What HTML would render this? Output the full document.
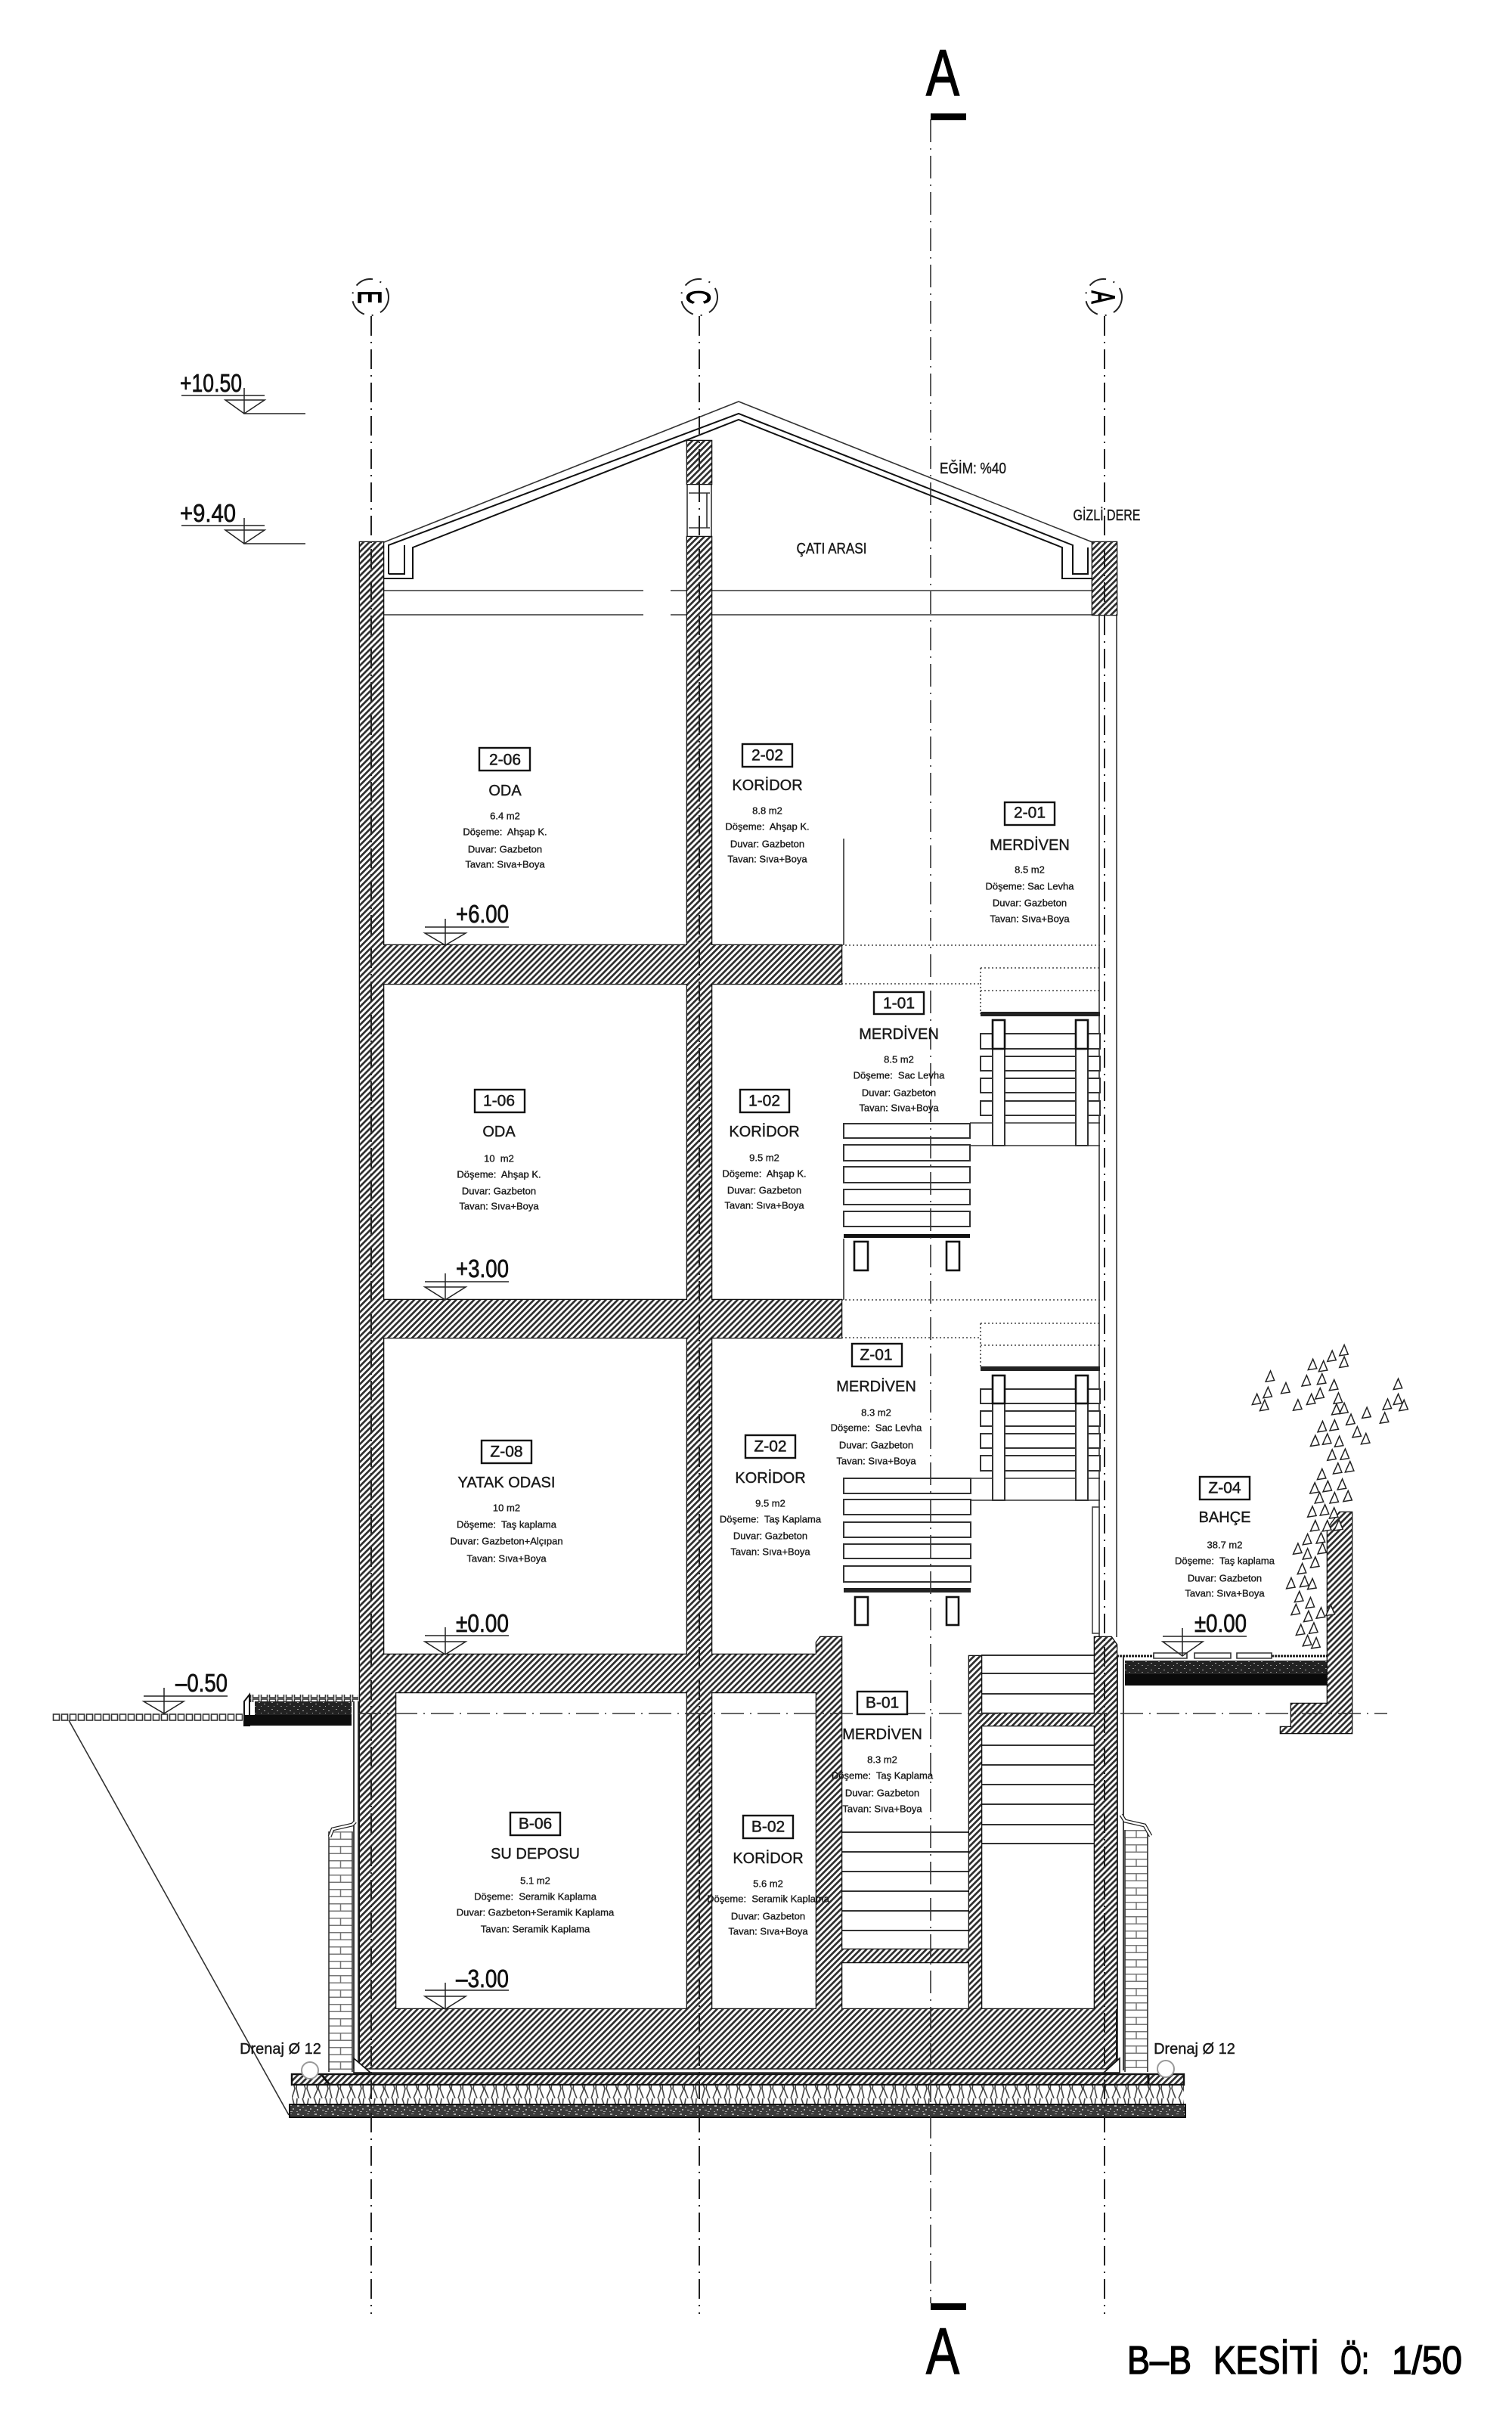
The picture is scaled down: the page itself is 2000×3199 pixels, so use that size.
<!DOCTYPE html>
<html><head><meta charset="utf-8"><title>B-B Kesiti</title>
<style>
html,body{margin:0;padding:0;background:#fff}
svg{display:block}
text{font-family:"Liberation Sans",sans-serif;fill:#1a1a1a}
.c{text-anchor:middle;dominant-baseline:central}
.s{font-size:13px;stroke:#1a1a1a;stroke-width:.35}
.n{font-size:20px;stroke:#1a1a1a;stroke-width:.4}
.t{font-size:21px;stroke:#1a1a1a;stroke-width:.5}
.e{font-size:33px;fill:#111;stroke:#111;stroke-width:.7}
.big{stroke:#000;stroke-width:1.5;fill:#000}
.tag{fill:#fff;stroke:#111;stroke-width:2.4}
.l{stroke:#333;stroke-width:1.6;fill:none}
.k{stroke:#111;stroke-width:2;fill:none}
.d{stroke:#444;stroke-width:1.6;stroke-dasharray:2 3;fill:none}
.a{stroke:#222;stroke-width:2;stroke-dasharray:26 8 2 8;fill:none}
.a2{stroke:#333;stroke-width:1.6;stroke-dasharray:30 8 2 8;fill:none}
.tr{fill:#fff;stroke:#333;stroke-width:2}
.p{fill:#fff;stroke:#111;stroke-width:2.6}
.m{stroke:#222;stroke-width:1.5;fill:none}
</style></head><body>
<svg xmlns="http://www.w3.org/2000/svg" width="2000" height="3199" viewBox="0 0 2000 3199">
<defs>
<pattern id="h" width="5.6" height="5.6" patternUnits="userSpaceOnUse" patternTransform="rotate(-45)">
<rect width="5.6" height="5.6" fill="#fff"/><rect width="5.6" height="2.7" fill="#2e2e2e"/>
</pattern>
<pattern id="g" width="23" height="11" patternUnits="userSpaceOnUse">
<rect width="23" height="11" fill="#3a3a3a"/>
<rect x="2" y="1" width="3" height="2" fill="#aaa"/><rect x="9" y="3" width="2" height="1" fill="#ccc"/><rect x="15" y="1" width="3" height="1" fill="#999"/>
<rect x="5" y="6" width="2" height="2" fill="#aaa"/><rect x="12" y="7" width="3" height="1" fill="#bbb"/><rect x="19" y="5" width="2" height="2" fill="#999"/>
<rect x="1" y="9" width="2" height="1" fill="#999"/><rect x="16" y="9" width="3" height="1" fill="#aaa"/>
</pattern>
<pattern id="g2" width="17" height="9" patternUnits="userSpaceOnUse">
<rect width="17" height="9" fill="#222"/>
<rect x="2" y="1" width="2" height="1" fill="#999"/><rect x="9" y="3" width="2" height="1" fill="#aaa"/><rect x="14" y="6" width="2" height="1" fill="#888"/><rect x="5" y="6" width="1" height="1" fill="#aaa"/>
</pattern>
<pattern id="ins" width="44" height="25" patternUnits="userSpaceOnUse">
<rect width="44" height="25" fill="#fff"/>
<path d="M4 0L8 12L5 25M12 0L10 12L15 25M20 0L24 13L19 25M27 0L25 12L30 25M35 0L38 12L34 25M41 0L40 12L43 25" stroke="#444" stroke-width="1.6" fill="none"/>
</pattern>
<pattern id="b" width="31" height="19" x="435" y="2422" patternUnits="userSpaceOnUse">
<rect width="31" height="19" fill="#fff"/>
<path d="M0 .7H31M0 10.2H31M15.5 0V9.5M0 10V19M31 10V19" stroke="#777" stroke-width="1.5" fill="none"/>
</pattern>
<pattern id="b2" width="30" height="19" x="1488" y="2420" patternUnits="userSpaceOnUse">
<rect width="30" height="19" fill="#fff"/>
<path d="M0 .7H30M0 10.2H30M15 0V9.5M0 10V19M30 10V19" stroke="#777" stroke-width="1.5" fill="none"/>
</pattern>
<pattern id="pv" width="11" height="10" x="69" y="2266" patternUnits="userSpaceOnUse">
<rect width="11" height="10" fill="#fff"/><rect x="1.5" y="1" width="8" height="8" fill="#fff" stroke="#333" stroke-width="1.6"/>
</pattern>
<path id="t" d="M-8 16L2 -16L10 12Z" fill="#fff" stroke="#222" stroke-width="1.5" vector-effect="non-scaling-stroke"/>
</defs>

<rect width="2000" height="3199" fill="#fff"/>

<!-- roof -->
<path class="l" d="M508 717L977 531L1445 717"/>
<path class="k" d="M514 759V721L977 547L1419 721V759H1439"/>
<path class="k" d="M514 759H535V721"/>
<path class="k" d="M508 765H546V724L977 555L1405 724V765H1445"/>
<path class="k" d="M1419 759H1439V724"/>
<path class="l" d="M508 781H851M887 781H1445M508 813H851M887 813H1445"/>

<!-- right thin wall -->
<path class="l" d="M1454 813V2165M1477 813V2165"/>

<!-- window in C wall -->
<rect x="909" y="640" width="32" height="70" fill="#fff" stroke="#333" stroke-width="1.6"/>
<path class="l" d="M911 652H939M911 698H939M935 652V698"/>

<!-- partition verticals -->
<path class="l" d="M1116 1109V1250M1116 1638V1719"/>

<!-- dotted lines -->
<path class="d" d="M1113 1250H1455M1113 1301H1297M1297 1280H1455M1297 1310H1455M1297 1280V1341"/>
<path class="d" d="M1113 1719H1455M1113 1769H1297M1297 1750H1455M1297 1779H1455M1297 1750V1807"/>

<!-- stairs floor 1 -->
<rect class="tr" x="1116" y="1486" width="167" height="19"/><rect class="tr" x="1116" y="1514" width="167" height="21"/><rect class="tr" x="1116" y="1543" width="167" height="21"/><rect class="tr" x="1116" y="1573" width="167" height="20"/><rect class="tr" x="1116" y="1602" width="167" height="20"/>
<rect x="1116" y="1632" width="167" height="5" fill="#111"/>
<rect class="p" x="1130" y="1642" width="18" height="38"/><rect class="p" x="1252" y="1642" width="17" height="38"/>
<rect class="tr" x="1297" y="1367" width="158" height="20"/><rect class="tr" x="1297" y="1397" width="158" height="19"/><rect class="tr" x="1297" y="1426" width="158" height="19"/><rect class="tr" x="1297" y="1456" width="158" height="19"/>
<path class="l" d="M1283 1485H1455M1283 1515H1455" stroke-width="2"/>
<rect class="tr" x="1313" y="1387" width="16" height="128"/><rect class="tr" x="1423" y="1387" width="16" height="128"/>
<rect class="p" x="1313" y="1349" width="16" height="38"/><rect class="p" x="1423" y="1349" width="16" height="38"/>
<rect x="1297" y="1338" width="158" height="6" fill="#222"/>

<!-- stairs ground -->
<rect class="tr" x="1116" y="1955" width="168" height="20"/><rect class="tr" x="1116" y="1983" width="168" height="20"/><rect class="tr" x="1116" y="2013" width="168" height="20"/><rect class="tr" x="1116" y="2042" width="168" height="19"/><rect class="tr" x="1116" y="2071" width="168" height="21"/>
<rect x="1116" y="2100" width="168" height="6" fill="#222"/>
<rect class="p" x="1131" y="2112" width="17" height="37"/><rect class="p" x="1252" y="2112" width="16" height="37"/>
<rect class="tr" x="1297" y="1837" width="158" height="19"/><rect class="tr" x="1297" y="1866" width="158" height="20"/><rect class="tr" x="1297" y="1896" width="158" height="19"/><rect class="tr" x="1297" y="1925" width="158" height="20"/>
<path class="l" d="M1284 1955H1455M1284 1984H1455" stroke-width="2"/>
<rect class="tr" x="1313" y="1856" width="16" height="128"/><rect class="tr" x="1423" y="1856" width="16" height="128"/>
<rect class="p" x="1313" y="1819" width="16" height="37"/><rect class="p" x="1423" y="1819" width="16" height="37"/>
<rect x="1297" y="1807" width="158" height="6" fill="#222"/>
<rect x="1445" y="1993" width="9" height="167" fill="#fff" stroke="#444" stroke-width="1.6"/>

<!-- basement stair treads -->
<path stroke="#333" stroke-width="2" fill="none" d="M1298 2189H1448M1298 2213H1448M1298 2240H1448M1298 2308H1448M1298 2334H1448M1298 2360H1448M1298 2386H1448M1298 2413H1448M1298 2438H1448M1113 2423H1282M1113 2449H1282M1113 2475H1282M1113 2501H1282M1113 2527H1282M1113 2553H1282"/>

<!-- ground left -->
<rect x="69" y="2266" width="252" height="10" fill="url(#pv)"/>
<rect x="330" y="2241" width="144" height="10" fill="url(#pv)"/>
<path d="M323 2282V2250L330 2241V2282Z" fill="#fff" stroke="#111" stroke-width="2"/>
<rect x="337" y="2250" width="128" height="18" fill="url(#g2)"/>
<rect x="323" y="2268" width="142" height="14" fill="#0d0d0d"/>
<path class="l" d="M91 2275L382 2797"/>

<!-- ground right -->
<path stroke="#222" stroke-width="3" stroke-dasharray="3 1" fill="none" d="M1477 2190H1526M1682 2190H1756"/>
<path class="l" d="M1526 2186H1570V2193H1526ZM1580 2186H1628V2193H1580ZM1636 2186H1682V2193H1636Z"/>
<rect x="1488" y="2196" width="268" height="18" fill="url(#g2)"/>
<rect x="1488" y="2214" width="268" height="15" fill="#0a0a0a"/>

<!-- brick walls -->
<rect x="435" y="2422" width="31" height="318" fill="url(#b)"/>
<rect x="1488" y="2420" width="30" height="320" fill="url(#b2)"/>
<path class="l" d="M435 2422V2740M466 2422V2740M1488 2420V2740M1518 2420V2740"/>

<!-- waterproof strips and flashings -->
<path stroke="#111" stroke-width="1.6" fill="none" d="M468 2250V2736M474 2250V2736M1478 2190V2738M1486 2190V2738"/>
<path stroke="#222" stroke-width="5" fill="none" d="M470 2409L466 2413L440 2419L436 2429"/>
<path stroke="#fff" stroke-width="2.5" fill="none" d="M470 2409L466 2413L440 2419L436 2429"/>
<path stroke="#222" stroke-width="5" fill="none" d="M1483 2400L1488 2408L1514 2414L1522 2428"/>
<path stroke="#fff" stroke-width="2.5" fill="none" d="M1483 2400L1488 2408L1514 2414L1522 2428"/>

<!-- main concrete structure -->
<path stroke="#111" stroke-width="2.6" fill="none" d="M476 717H507V2188H476ZM909 583H941V640H909ZM909 710H941V2657H909ZM1445 717H1477V813H1445ZM476 1250H1113V1301H476ZM476 1719H1113V1769H476ZM476 2188H1080V2238H476ZM476 2238H523V2657H476ZM476 2657H1476V2736H476ZM1085 2165H1113V2657H1080V2172ZM1282 2190H1298V2657H1282ZM1448 2165H1470L1477 2175V2657H1448ZM1298 2266H1448V2282H1298ZM1113 2578H1282V2595H1113ZM1756 2022L1772 2000H1788V2292H1694V2284H1708V2253H1756Z"/>
<path fill="url(#h)" d="M476 717H507V2188H476ZM909 583H941V640H909ZM909 710H941V2657H909ZM1445 717H1477V813H1445ZM476 1250H1113V1301H476ZM476 1719H1113V1769H476ZM476 2188H1080V2238H476ZM476 2238H523V2657H476ZM476 2657H1476V2736H476ZM1085 2165H1113V2657H1080V2172ZM1282 2190H1298V2657H1282ZM1448 2165H1470L1477 2175V2657H1448ZM1298 2266H1448V2282H1298ZM1113 2578H1282V2595H1113ZM1756 2022L1772 2000H1788V2292H1694V2284H1708V2253H1756Z"/>

<!-- foundation layers -->
<rect x="476" y="2736" width="1000" height="5" fill="#fff" stroke="#111" stroke-width="1.4"/>
<path d="M468 2722L490 2741H468Z" fill="#fff" stroke="#111" stroke-width="1.6"/>
<path d="M1481 2722L1460 2741H1481Z" fill="#fff" stroke="#111" stroke-width="1.6"/>
<rect x="386" y="2743" width="1180" height="14" fill="url(#h)" stroke="#111" stroke-width="2.4"/>
<rect x="386" y="2758" width="1180" height="25" fill="url(#ins)"/>
<rect x="383" y="2783" width="1185" height="17" fill="url(#g)" stroke="#111" stroke-width="2"/>
<circle cx="410" cy="2738" r="11" fill="#fff" stroke="#999" stroke-width="2"/>
<path d="M425 2743L436 2757" stroke="#111" stroke-width="3"/>
<circle cx="1542" cy="2736" r="11" fill="#fff" stroke="#999" stroke-width="2"/>
<path d="M1519 2743V2757" stroke="#111" stroke-width="3"/>

<!-- axes -->
<path class="a" d="M491 418V3060M925 418V3060M1461 418V3060"/>
<path class="a2" d="M1231 158V3046"/>
<path class="a2" d="M474 2266H1835"/>
<rect x="1231" y="150" width="47" height="9" fill="#000"/>
<rect x="1231" y="3046" width="47" height="9" fill="#000"/>
<g fill="#fff" stroke="#222" stroke-width="2" stroke-dasharray="24 10 2 10">
<circle cx="490" cy="393" r="24"/><circle cx="925" cy="393" r="24"/><circle cx="1460" cy="393" r="24"/>
</g>
<text class="big" text-anchor="middle" font-size="44" transform="translate(490 393) rotate(90) scale(.58 1) translate(0 16)">E</text>
<text class="big" text-anchor="middle" font-size="44" transform="translate(925 393) rotate(90) scale(.58 1) translate(0 16)">C</text>
<text class="big" text-anchor="middle" font-size="44" transform="translate(1460 393) rotate(90) scale(.58 1) translate(0 16)">A</text>

<text class="big" x="1225" y="126" font-size="86" textLength="44" lengthAdjust="spacingAndGlyphs">A</text>
<text class="big" x="1225" y="3139" font-size="86" textLength="44" lengthAdjust="spacingAndGlyphs">A</text>
<text class="big" x="1491" y="3139" font-size="52" textLength="85" lengthAdjust="spacingAndGlyphs">B–B</text>
<text class="big" x="1605" y="3139" font-size="52" textLength="140" lengthAdjust="spacingAndGlyphs">KESİTİ</text>
<text class="big" x="1773" y="3139" font-size="52" textLength="38" lengthAdjust="spacingAndGlyphs">Ö:</text>
<text class="big" x="1841" y="3139" font-size="52" textLength="93" lengthAdjust="spacingAndGlyphs">1/50</text>

<!-- level markers -->
<g class="m">
<path d="M240 523H350M323 513V547H404M298 529H350L323 547Z"/>
<path d="M240 695H350M323 685V719H404M298 701H350L323 719Z"/>
<path d="M562 1226H673M589 1215V1250M562 1234H616L589 1250Z"/>
<path d="M562 1695H673M589 1684V1719M562 1702H616L589 1719Z"/>
<path d="M562 2163H673M589 2152V2188M562 2171H616L589 2188Z"/>
<path d="M562 2632H673M589 2622V2657M562 2640H616L589 2657Z"/>
<path d="M190 2243H301M217 2232V2266M190 2250H243L217 2266Z"/>
<path d="M1538 2164H1649M1564 2153V2190M1538 2171H1591L1564 2190Z"/>
</g>
<text class="e" x="238" y="518" textLength="82" lengthAdjust="spacingAndGlyphs">+10.50</text>
<text class="e" x="238" y="690" textLength="74" lengthAdjust="spacingAndGlyphs">+9.40</text>
<text class="e" x="603" y="1220" textLength="70" lengthAdjust="spacingAndGlyphs">+6.00</text>
<text class="e" x="603" y="1689" textLength="70" lengthAdjust="spacingAndGlyphs">+3.00</text>
<text class="e" x="603" y="2158" textLength="70" lengthAdjust="spacingAndGlyphs">±0.00</text>
<text class="e" x="603" y="2628" textLength="70" lengthAdjust="spacingAndGlyphs">–3.00</text>
<text class="e" x="232" y="2237" textLength="69" lengthAdjust="spacingAndGlyphs">–0.50</text>
<text class="e" x="1580" y="2158" textLength="69" lengthAdjust="spacingAndGlyphs">±0.00</text>

<!-- misc labels -->
<text class="c n" x="1287" y="620" textLength="88" lengthAdjust="spacingAndGlyphs">EĞİM: %40</text>
<text class="c n" x="1464" y="682" textLength="89" lengthAdjust="spacingAndGlyphs">GİZLİ DERE</text>
<text class="c n" x="1100" y="726" textLength="93" lengthAdjust="spacingAndGlyphs">ÇATI ARASI</text>
<text class="c n" x="371" y="2710">Drenaj Ø 12</text>
<text class="c n" x="1580" y="2710">Drenaj Ø 12</text>

<!-- room 2-06 -->
<rect class="tag" x="634" y="989" width="67" height="30"/><text class="c t" x="668" y="1005">2-06</text>
<text class="c n" x="668" y="1046">ODA</text>
<text class="c s" x="668" y="1079">6.4 m2</text><text class="c s" x="668" y="1100">Döşeme:&#160; Ahşap K.</text><text class="c s" x="668" y="1123">Duvar: Gazbeton</text><text class="c s" x="668" y="1143">Tavan: Sıva+Boya</text>
<!-- 2-02 -->
<rect class="tag" x="982" y="984" width="66" height="30"/><text class="c t" x="1015" y="999">2-02</text>
<text class="c n" x="1015" y="1039">KORİDOR</text>
<text class="c s" x="1015" y="1072">8.8 m2</text><text class="c s" x="1015" y="1093">Döşeme:&#160; Ahşap K.</text><text class="c s" x="1015" y="1116">Duvar: Gazbeton</text><text class="c s" x="1015" y="1136">Tavan: Sıva+Boya</text>
<!-- 2-01 -->
<rect class="tag" x="1329" y="1061" width="66" height="30"/><text class="c t" x="1362" y="1075">2-01</text>
<text class="c n" x="1362" y="1118">MERDİVEN</text>
<text class="c s" x="1362" y="1150">8.5 m2</text><text class="c s" x="1362" y="1172">Döşeme: Sac Levha</text><text class="c s" x="1362" y="1194">Duvar: Gazbeton</text><text class="c s" x="1362" y="1215">Tavan: Sıva+Boya</text>
<!-- 1-01 -->
<rect class="tag" x="1156" y="1312" width="66" height="29"/><text class="c t" x="1189" y="1327">1-01</text>
<text class="c n" x="1189" y="1368">MERDİVEN</text>
<text class="c s" x="1189" y="1401">8.5 m2</text><text class="c s" x="1189" y="1422">Döşeme:&#160; Sac Levha</text><text class="c s" x="1189" y="1445">Duvar: Gazbeton</text><text class="c s" x="1189" y="1465">Tavan: Sıva+Boya</text>
<!-- 1-06 -->
<rect class="tag" x="628" y="1441" width="66" height="30"/><text class="c t" x="660" y="1456">1-06</text>
<text class="c n" x="660" y="1497">ODA</text>
<text class="c s" x="660" y="1532">10&#160; m2</text><text class="c s" x="660" y="1553">Döşeme:&#160; Ahşap K.</text><text class="c s" x="660" y="1575">Duvar: Gazbeton</text><text class="c s" x="660" y="1595">Tavan: Sıva+Boya</text>
<!-- 1-02 -->
<rect class="tag" x="979" y="1441" width="65" height="30"/><text class="c t" x="1011" y="1456">1-02</text>
<text class="c n" x="1011" y="1497">KORİDOR</text>
<text class="c s" x="1011" y="1531">9.5 m2</text><text class="c s" x="1011" y="1552">Döşeme:&#160; Ahşap K.</text><text class="c s" x="1011" y="1574">Duvar: Gazbeton</text><text class="c s" x="1011" y="1594">Tavan: Sıva+Boya</text>
<!-- Z-01 -->
<rect class="tag" x="1127" y="1777" width="66" height="30"/><text class="c t" x="1159" y="1792">Z-01</text>
<text class="c n" x="1159" y="1834">MERDİVEN</text>
<text class="c s" x="1159" y="1868">8.3 m2</text><text class="c s" x="1159" y="1888">Döşeme:&#160; Sac Levha</text><text class="c s" x="1159" y="1911">Duvar: Gazbeton</text><text class="c s" x="1159" y="1932">Tavan: Sıva+Boya</text>
<!-- Z-08 -->
<rect class="tag" x="637" y="1905" width="66" height="30"/><text class="c t" x="670" y="1920">Z-08</text>
<text class="c n" x="670" y="1961">YATAK ODASI</text>
<text class="c s" x="670" y="1994">10 m2</text><text class="c s" x="670" y="2016">Döşeme:&#160; Taş kaplama</text><text class="c s" x="670" y="2038">Duvar: Gazbeton+Alçıpan</text><text class="c s" x="670" y="2061">Tavan: Sıva+Boya</text>
<!-- Z-02 -->
<rect class="tag" x="986" y="1898" width="66" height="30"/><text class="c t" x="1019" y="1913">Z-02</text>
<text class="c n" x="1019" y="1955">KORİDOR</text>
<text class="c s" x="1019" y="1988">9.5 m2</text><text class="c s" x="1019" y="2009">Döşeme:&#160; Taş Kaplama</text><text class="c s" x="1019" y="2031">Duvar: Gazbeton</text><text class="c s" x="1019" y="2052">Tavan: Sıva+Boya</text>
<!-- Z-04 -->
<rect class="tag" x="1587" y="1953" width="66" height="30"/><text class="c t" x="1620" y="1968">Z-04</text>
<text class="c n" x="1620" y="2007">BAHÇE</text>
<text class="c s" x="1620" y="2043">38.7 m2</text><text class="c s" x="1620" y="2064">Döşeme:&#160; Taş kaplama</text><text class="c s" x="1620" y="2087">Duvar: Gazbeton</text><text class="c s" x="1620" y="2107">Tavan: Sıva+Boya</text>
<!-- B-01 -->
<rect class="tag" x="1134" y="2237" width="66" height="30"/><text class="c t" x="1167" y="2252">B-01</text>
<text class="c n" x="1167" y="2294">MERDİVEN</text>
<text class="c s" x="1167" y="2327">8.3 m2</text><text class="c s" x="1167" y="2348">Döşeme:&#160; Taş Kaplama</text><text class="c s" x="1167" y="2371">Duvar: Gazbeton</text><text class="c s" x="1167" y="2392">Tavan: Sıva+Boya</text>
<!-- B-06 -->
<rect class="tag" x="675" y="2397" width="66" height="30"/><text class="c t" x="708" y="2412">B-06</text>
<text class="c n" x="708" y="2452">SU DEPOSU</text>
<text class="c s" x="708" y="2487">5.1 m2</text><text class="c s" x="708" y="2508">Döşeme:&#160; Seramik Kaplama</text><text class="c s" x="708" y="2529">Duvar: Gazbeton+Seramik Kaplama</text><text class="c s" x="708" y="2551">Tavan: Seramik Kaplama</text>
<!-- B-02 -->
<rect class="tag" x="983" y="2401" width="66" height="30"/><text class="c t" x="1016" y="2416">B-02</text>
<text class="c n" x="1016" y="2458">KORİDOR</text>
<text class="c s" x="1016" y="2491">5.6 m2</text><text class="c s" x="1016" y="2511">Döşeme:&#160; Seramik Kaplama</text><text class="c s" x="1016" y="2534">Duvar: Gazbeton</text><text class="c s" x="1016" y="2554">Tavan: Sıva+Boya</text>

<!-- garden plants -->
<g transform="translate(1000 1750) scale(.6378 .4464)">
<use href="#t" x="1065" y="157"/><use href="#t" x="1153" y="122"/><use href="#t" x="1175" y="127"/><use href="#t" x="1193" y="97"/><use href="#t" x="1218" y="80"/><use href="#t" x="1218" y="115"/><use href="#t" x="1097" y="192"/><use href="#t" x="1140" y="170"/><use href="#t" x="1172" y="165"/><use href="#t" x="1197" y="183"/><use href="#t" x="1330" y="180"/><use href="#t" x="1060" y="205"/><use href="#t" x="1037" y="225"/><use href="#t" x="1053" y="243"/><use href="#t" x="1122" y="242"/><use href="#t" x="1150" y="225"/><use href="#t" x="1168" y="208"/><use href="#t" x="1206" y="222"/><use href="#t" x="1202" y="255"/><use href="#t" x="1218" y="252"/><use href="#t" x="1265" y="265"/><use href="#t" x="1232" y="285"/><use href="#t" x="1308" y="240"/><use href="#t" x="1330" y="225"/><use href="#t" x="1342" y="243"/><use href="#t" x="1302" y="280"/><use href="#t" x="1173" y="306"/><use href="#t" x="1198" y="302"/><use href="#t" x="1245" y="322"/><use href="#t" x="1263" y="342"/><use href="#t" x="1158" y="348"/><use href="#t" x="1183" y="343"/><use href="#t" x="1208" y="350"/><use href="#t" x="1193" y="390"/><use href="#t" x="1220" y="388"/><use href="#t" x="1172" y="447"/><use href="#t" x="1205" y="430"/><use href="#t" x="1230" y="425"/><use href="#t" x="1157" y="488"/><use href="#t" x="1184" y="483"/><use href="#t" x="1214" y="477"/><use href="#t" x="1167" y="517"/><use href="#t" x="1198" y="517"/><use href="#t" x="1226" y="512"/><use href="#t" x="1152" y="558"/><use href="#t" x="1178" y="553"/><use href="#t" x="1197" y="562"/><use href="#t" x="1158" y="600"/><use href="#t" x="1183" y="600"/><use href="#t" x="1207" y="598"/><use href="#t" x="1142" y="640"/><use href="#t" x="1170" y="636"/><use href="#t" x="1122" y="668"/><use href="#t" x="1142" y="683"/><use href="#t" x="1173" y="667"/><use href="#t" x="1158" y="708"/><use href="#t" x="1131" y="727"/><use href="#t" x="1108" y="770"/><use href="#t" x="1136" y="765"/><use href="#t" x="1152" y="772"/><use href="#t" x="1125" y="810"/><use href="#t" x="1148" y="828"/><use href="#t" x="1118" y="848"/><use href="#t" x="1170" y="858"/><use href="#t" x="1144" y="868"/><use href="#t" x="1190" y="850"/><use href="#t" x="1155" y="903"/><use href="#t" x="1128" y="908"/><use href="#t" x="1142" y="940"/><use href="#t" x="1160" y="947"/>
</g>
</svg>
</body></html>
